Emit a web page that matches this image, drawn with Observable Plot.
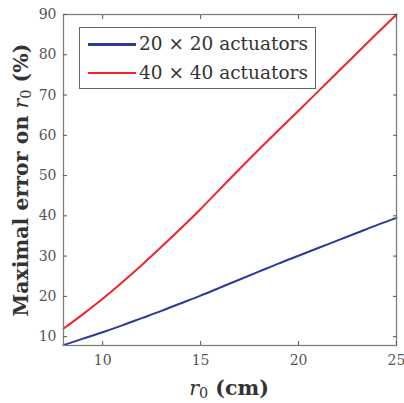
<!DOCTYPE html>
<html>
<head>
<meta charset="utf-8">
<script src="https://cdn.jsdelivr.net/npm/d3@7"></script>
<script src="https://cdn.jsdelivr.net/npm/@observablehq/plot@0.6"></script>
<style>
  body { margin: 0; background: #fff; }
  #wrap { position: relative; width: 404px; height: 403px; font-family: "DejaVu Serif", serif; color: #333; overflow: hidden; }
  .legend { position: absolute; left: 79px; top: 27px; width: 237px; height: 62px; box-sizing: border-box; border: 1.3px solid #666; background: #fff; }
  .lg-row { position: absolute; left: 0; height: 20px; white-space: nowrap; }
  .lg-line { position: absolute; left: 8px; width: 48px; }
  .lg-text { position: absolute; left: 59px; font-size: 18.5px; line-height: 20px; top: 0; color: #333; }
  .title { position: absolute; white-space: nowrap; font-weight: bold; font-size: 20.5px; line-height: 1; color: #333; }
  .title i { font-weight: normal; font-style: italic; }
  .title sub { font-weight: normal; font-size: 0.7em; vertical-align: -0.25em; line-height: 0; }
</style>
</head>
<body>
<div id="wrap"></div>
<script>
// ---- data ----
const r0 = [8, 9, 10, 11, 12, 13, 14, 15, 16, 17, 18, 19, 20, 21, 22, 23, 24, 25];
const err20x20 = [7.9, 9.5, 11.1, 12.8, 14.6, 16.4, 18.3, 20.2, 22.2, 24.2, 26.2, 28.2, 30.1, 32.0, 33.9, 35.8, 37.7, 39.5];
const err40x40 = [12.0, 15.6, 19.4, 23.5, 27.8, 32.3, 36.9, 41.7, 46.7, 51.7, 56.6, 61.4, 66.1, 70.9, 75.7, 80.5, 85.3, 90.0];
const xTicks = [10, 15, 20, 25];
const yTicks = [10, 20, 30, 40, 50, 60, 70, 80, 90];
const seriesNames = ["20 × 20 actuators", "40 × 40 actuators"];
const seriesColors = ["#2c3a9c", "#f2232b"];

const rows = [];
r0.forEach((x, i) => {
  rows.push({ r0: x, err: err20x20[i], series: seriesNames[0] });
  rows.push({ r0: x, err: err40x40[i], series: seriesNames[1] });
});

const chart = Plot.plot({
  width: 404,
  height: 403,
  marginLeft: 63,
  marginRight: 8,
  marginTop: 14,
  marginBottom: 58,
  style: { fontFamily: "DejaVu Serif, serif", fontSize: "14px", color: "#555", background: "#fff", overflow: "visible" },
  x: { domain: [8, 25] },
  y: { domain: [7.8, 90] },
  color: { domain: seriesNames, range: seriesColors },
  marks: [
    Plot.line(rows, { x: "r0", y: "err", z: "series", stroke: "series", strokeWidth: 2, curve: "monotone-x" }),
    Plot.frame({ stroke: "#808080", strokeWidth: 1.3 }),
    Plot.axisX(xTicks, { anchor: "bottom", tickSize: 0, tickPadding: 10, label: null }),
    Plot.axisX(xTicks, { anchor: "bottom", tickSize: -4, tickFormat: () => "", label: null, stroke: "#555" }),
    Plot.axisX(xTicks, { anchor: "top", tickSize: -4, tickFormat: () => "", label: null, stroke: "#555" }),
    Plot.axisY(yTicks, { anchor: "left", tickSize: 0, tickPadding: 7, label: null }),
    Plot.axisY(yTicks, { anchor: "left", tickSize: -4, tickFormat: () => "", label: null, stroke: "#555" }),
    Plot.axisY(yTicks, { anchor: "right", tickSize: -4, tickFormat: () => "", label: null, stroke: "#555" })
  ]
});

const wrap = document.getElementById("wrap");
wrap.appendChild(chart);

// legend
const legend = document.createElement("div");
legend.className = "legend";
seriesNames.forEach((name, i) => {
  const row = document.createElement("div");
  row.className = "lg-row";
  row.style.top = (6 + i * 29) + "px";
  const line = document.createElement("div");
  line.className = "lg-line";
  line.style.borderTop = (i === 0 ? 3 : 2) + "px solid " + seriesColors[i];
  line.style.top = (i === 0 ? 8.5 : 9) + "px";
  const txt = document.createElement("div");
  txt.className = "lg-text";
  txt.textContent = name;
  row.appendChild(line);
  row.appendChild(txt);
  legend.appendChild(row);
});
wrap.appendChild(legend);

// axis titles
const yTitle = document.createElement("div");
yTitle.className = "title";
yTitle.innerHTML = "Maximal error on <i>r</i><sub>0</sub> (%)";
yTitle.style.left = "21px";
yTitle.style.top = "180px";
yTitle.style.transform = "translate(-50%, -50%) rotate(-90deg)";
wrap.appendChild(yTitle);

const xTitle = document.createElement("div");
xTitle.className = "title";
xTitle.innerHTML = "<i>r</i><sub>0</sub> (cm)";
xTitle.style.left = "229px";
xTitle.style.top = "388px";
xTitle.style.transform = "translate(-50%, -50%)";
wrap.appendChild(xTitle);
</script>
</body>
</html>
